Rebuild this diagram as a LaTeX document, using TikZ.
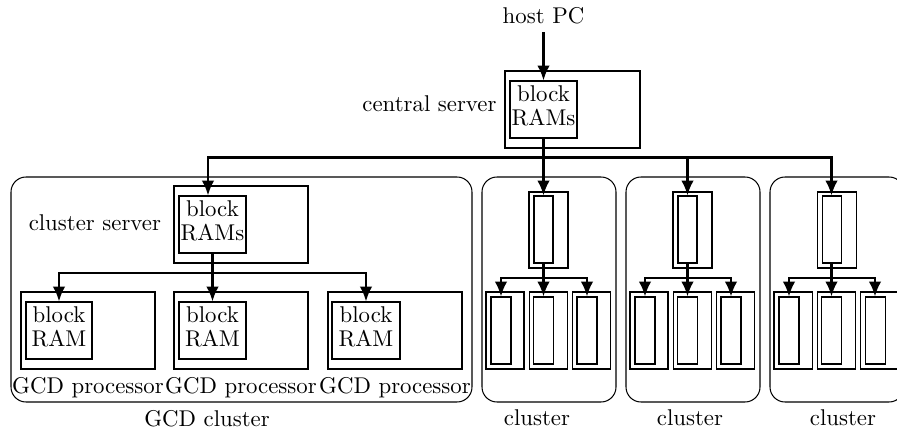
\documentclass[tikz,border=0pt]{standalone}
\usetikzlibrary{arrows.meta}

\newlength{\pxu}
\setlength{\pxu}{0.4385pt}

\tikzset{
  box/.style={draw, line width=0.45pt, inner sep=0pt},
  ram/.style={box, align=center, text depth=8\pxu},
  clu/.style={draw, line width=0.45pt, rounded corners=15\pxu, inner sep=0pt},
  link/.style={line width=1.1pt},
  feed/.style={link, -{Latex[length=6.5pt,width=5.5pt]}},
}

\begin{document}
\begin{tikzpicture}[x=\pxu, y=-\pxu]
    \clip (0,0) rectangle (897,430);

    % central server
    \node (host) at (543.5,16) {host PC};
    \node[box, minimum width=135\pxu, minimum height=77\pxu] (csrv) at (572.5,109.5) {};
    \node[ram, minimum width=67\pxu, minimum height=57\pxu] (cram) at (543.5,109.5) {\shortstack{block\\RAMs}};
    \node[anchor=east, yshift=6\pxu] (clab) at (csrv.west) {central server};
    \coordinate (bus) at (543.5,157.5);

    \draw[feed] (host.south) -- (cram.north);
    \draw[link] (cram.south) -- (bus);

    % GCD cluster
    \node[clu, minimum width=461\pxu, minimum height=225\pxu] (gcd) at (241.5,289.5) {};
    \node[box, minimum width=134\pxu, minimum height=77\pxu] (srv1) at (241,224.5) {};
    \node[ram, minimum width=67\pxu, minimum height=57\pxu] (sr1) at (212.5,224.5) {\shortstack{block\\RAMs}};
    \node[anchor=east, xshift=-4.5\pxu, yshift=1.5\pxu] (slab) at (srv1.west) {cluster server};
    \node[anchor=north] (glab) at (207,402) {GCD cluster};

    \node[box, minimum width=134\pxu, minimum height=77\pxu] (p1) at (88,330.5) {};
    \node[box, minimum width=134\pxu, minimum height=77\pxu] (p2) at (241,330.5) {};
    \node[box, minimum width=134\pxu, minimum height=77\pxu] (p3) at (395,330.5) {};
    \node[ram, minimum width=66\pxu, minimum height=57\pxu] (pr1) at (59,330.5) {\shortstack{block\\RAM}};
    \node[ram, minimum width=67\pxu, minimum height=57\pxu] (pr2) at (212.5,330.5) {\shortstack{block\\RAM}};
    \node[ram, minimum width=68\pxu, minimum height=57\pxu] (pr3) at (366,330.5) {\shortstack{block\\RAM}};
    \node[anchor=north] (pl1) at (p1.south) {GCD processor};
    \node[anchor=north] (pl2) at (p2.south) {GCD processor};
    \node[anchor=north] (pl3) at (p3.south) {GCD processor};
    \coordinate (sub1) at (212.5,273);

    \draw[feed] (bus) -| ([xshift=-4.5\pxu]sr1.north);
    \draw[link] (sr1.south) -- (sub1);
    \draw[feed] (sub1) -| (pr1.north);
    \draw[feed] (sub1) -- (pr2.north);
    \draw[feed] (sub1) -| (pr3.north);

    % small clusters
    \foreach \i/\lx in {0/537,1/690,2/843} {
      \pgfmathsetmacro\dx{144*\i}
      \node[clu, minimum width=134\pxu, minimum height=225\pxu] (k\i) at (549+\dx,289.5) {};
      \node[box, minimum width=39\pxu, minimum height=76\pxu] (ks\i) at (548.5+\dx,230) {};
      \node[box, minimum width=19\pxu, minimum height=67\pxu] (kr\i) at (543.5+\dx,229.5) {};
      \node[anchor=north] (kl\i) at (\lx,402) {cluster};
      \coordinate (ksub\i) at (543.5+\dx,278);
      \draw[feed] (bus) -| (kr\i.north);
      \draw[link] (kr\i.south) -- (ksub\i);
      \foreach \j/\ox/\ix in {a/505/501, b/548.5/543.5, c/591.5/587} {
        \node[box, minimum width=38\pxu, minimum height=77\pxu] (kp\j\i) at (\ox+\dx,330.5) {};
        \node[box, minimum width=20\pxu, minimum height=67\pxu] (kq\j\i) at (\ix+\dx,330.5) {};
        \draw[feed] (ksub\i) -| (kq\j\i.north);
      }
    }
\end{tikzpicture}
\end{document}
